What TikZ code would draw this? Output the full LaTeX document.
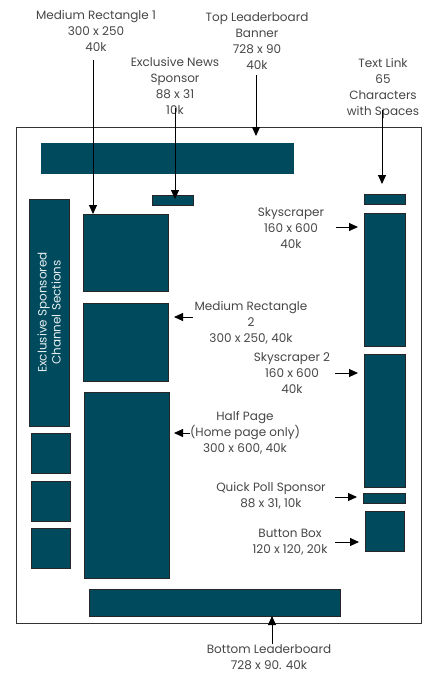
\documentclass[tikz,border=0pt]{standalone}
\usepackage{fontspec}
\setmainfont{Poppins}
\usetikzlibrary{arrows.meta,positioning}
\definecolor{adteal}{RGB}{0,74,94}
\definecolor{lbltxt}{RGB}{70,70,70}
\tikzset{
  adblk/.style={draw=black!85,fill=adteal,line width=0.8pt,inner sep=0pt,outer sep=0pt},
  bnrblk/.style={adblk,draw=adteal},
  pageframe/.style={draw=black!80,line width=1pt,inner sep=0pt,outer sep=0pt},
  lbl/.style={align=center,text=lbltxt,font=\fontsize{12}{16}\selectfont,inner sep=0pt},
  chnltxt/.style={align=center,text=white!90!adteal,font=\fontsize{12}{14}\selectfont,rotate=90},
  arr/.style={-{Triangle[length=9pt,width=8pt]},line width=0.9pt}
}

\begin{document}
\begin{tikzpicture}[x=1pt,y=-1pt]
  \useasboundingbox (0,0) rectangle (425,673);
  % Page frame
  \node[pageframe, minimum width=405pt, minimum height=496pt] (page) at (218.5,375) {};

  % Banners
  \node[bnrblk, minimum width=252pt, minimum height=30pt] (topbnr) at (167,158) {};
  \node[adblk, minimum width=251pt, minimum height=27pt] (botbnr) at (214.5,602.5) {};
  \node[adblk, minimum width=41pt, minimum height=10pt] (newsad) at (172.5,200) {};

  % Left column
  \node[adblk, minimum width=40pt, minimum height=227pt] (chnl) at (49,312.5) {};
  \node[chnltxt] at (chnl.center) {Exclusive Sponsored\\Channel Sections};
  \node[adblk, minimum width=39pt, minimum height=40pt] (sq1) at (50.5,453) {};
  \node[adblk, minimum width=39pt, minimum height=40pt] (sq2) at (50.5,501) {};
  \node[adblk, minimum width=39pt, minimum height=40pt] (sq3) at (50.5,548) {};

  % Centre column
  \node[adblk, minimum width=85pt, minimum height=77pt] (mr1) at (125.5,252.5) {};
  \node[adblk, minimum width=85pt, minimum height=78pt] (mr2) at (125.5,342) {};
  \node[adblk, minimum width=85pt, minimum height=186pt] (halfpg) at (126.5,485) {};

  % Right column
  \node[adblk, minimum width=41pt, minimum height=10pt] (txtlnk) at (384.5,199) {};
  \node[adblk, minimum width=41pt, minimum height=133pt] (sky1) at (384.5,279.5) {};
  \node[adblk, minimum width=41pt, minimum height=133pt] (sky2) at (384.5,420.5) {};
  \node[adblk, minimum width=42pt, minimum height=10pt] (poll) at (384,498) {};
  \node[adblk, minimum width=39pt, minimum height=40pt] (btnbox) at (384.5,531) {};

  % Labels
  \node[lbl] (lblmr1) at (96,31) {Medium Rectangle 1\\300 x 250\\40k};
  \node[lbl] (lbltop) at (257,41) {Top Leaderboard\\Banner\\728 x 90\\40k};
  \node[lbl] (lblnews) at (175,86) {Exclusive News\\Sponsor\\88 x 31\\10k};
  \node[lbl] (lbltxt) at (383,88) {Text Link\\65\\Characters\\with Spaces};
  \node[lbl] (lblsky) at (291,228) {Skyscraper\\160 x 600\\40k};
  \node[lbl] (lblmr2) at (251,323) {Medium Rectangle\\2\\300 x 250, 40k};
  \node[lbl] (lblsky2) at (292,373) {Skyscraper 2\\160 x 600\\40k};
  \node[lbl] (lblhalf) at (245,433) {Half Page\\(Home page only)\\300 x 600, 40k};
  \node[lbl] (lblpoll) at (271,496) {Quick Poll Sponsor\\88 x 31, 10k};
  \node[lbl] (lblbtn) at (290,542) {Button Box\\120 x 120, 20k};
  \node[lbl] (lblbot) at (269,657) {Bottom Leaderboard\\728 x 90. 40k};

  % Arrow ends
  \coordinate (mr1tail) at (93,60);
  \coordinate (toptail) at (256,75);
  \coordinate (toptip) at (256,136);
  \coordinate (newstail) at (175,108);
  \coordinate (txttail) at (382,110);
  \coordinate (txttip) at (382,184);
  \coordinate (skytail) at (336,227);
  \coordinate (mr2tail) at (193,317);
  \coordinate (sky2tail) at (335,373);
  \coordinate (halftail) at (190,433);
  \coordinate (polltail) at (335,497);
  \coordinate (btntail) at (335,542);
  \coordinate (bottail) at (272,644);

  % Arrows
  \draw[arr] (mr1tail) -- (mr1tail |- mr1.north);
  \draw[arr] (toptail) -- (toptip);
  \draw[arr] (newstail) -- ([yshift=-4pt]newstail |- newsad.north);
  \draw[arr] (txttail) -- (txttip);
  \draw[arr] (skytail) -- ([xshift=-6pt]skytail -| sky1.west);
  \draw[arr] (mr2tail) -- ([xshift=6pt]mr2tail -| mr2.east);
  \draw[arr] (sky2tail) -- ([xshift=-6pt]sky2tail -| sky2.west);
  \draw[arr] (halftail) -- ([xshift=5pt]halftail -| halfpg.east);
  \draw[arr] (polltail) -- ([xshift=-6pt]polltail -| poll.west);
  \draw[arr] (btntail) -- ([xshift=-6pt]btntail -| btnbox.west);
  \draw[arr] (bottail) -- (bottail |- botbnr.south);
\end{tikzpicture}
\end{document}
